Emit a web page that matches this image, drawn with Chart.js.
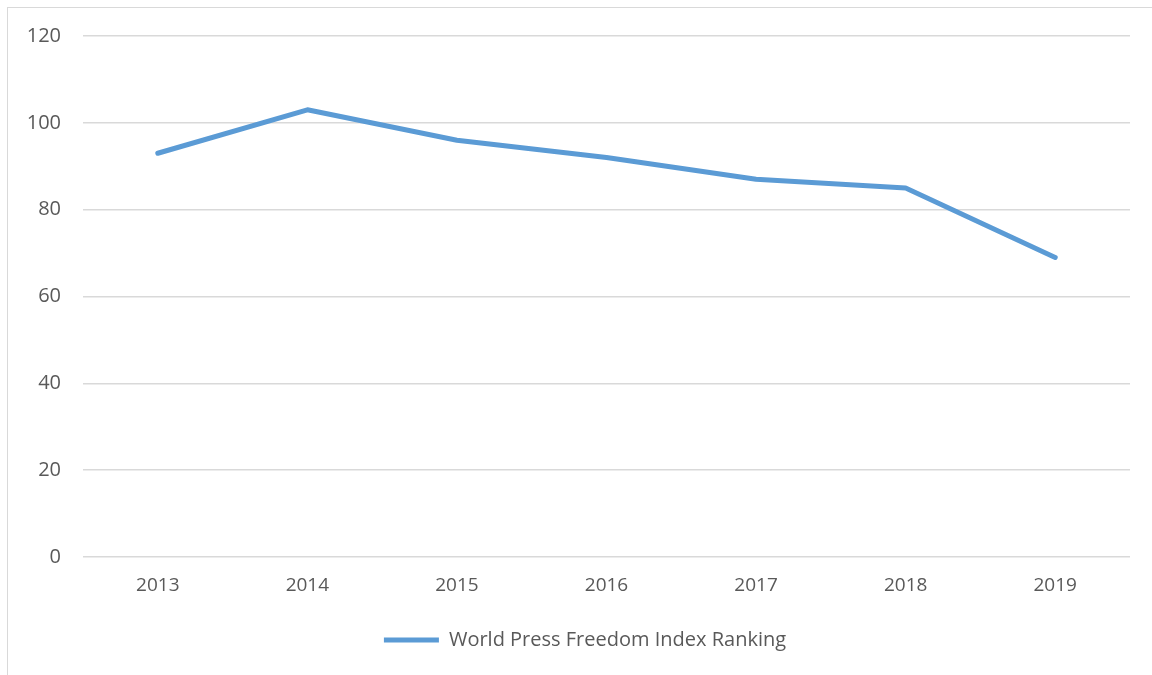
<!DOCTYPE html>
<html>
<head>
<meta charset="utf-8">
<script src="https://cdn.jsdelivr.net/npm/chart.js@4.4.1/dist/chart.umd.min.js"></script>
<style>
  html, body { margin: 0; padding: 0; background: #fff; }
  #wrap { position: relative; width: 1152px; height: 675px; overflow: hidden; }
  #frame { position: absolute; left: 7px; top: 7px; width: 1200px; height: 700px; border-left: 1px solid #d9d9d9; border-top: 1px solid #d9d9d9; }
  canvas { position: absolute; left: 0; top: 0; }
</style>
</head>
<body>
<div id="wrap">
  <div id="frame"></div>
  <canvas id="c" width="1152" height="675"></canvas>
</div>
<script>
const years = ["2013", "2014", "2015", "2016", "2017", "2018", "2019"];
const ranking = [93, 103, 96, 92, 87, 85, 69];
const seriesName = "World Press Freedom Index Ranking";

const font = "'Open Sans', 'Liberation Sans', sans-serif";
const textColor = "#595959";
const lineColor = "#5b9bd5";

const chart = new Chart(document.getElementById("c"), {
  type: "line",
  data: {
    labels: years,
    datasets: [{
      label: seriesName,
      data: ranking,
      borderColor: lineColor,
      backgroundColor: lineColor,
      borderWidth: 5,
      pointRadius: 0,
      tension: 0,
      borderCapStyle: "round",
      borderJoinStyle: "round"
    }]
  },
  options: {
    responsive: false,
    animation: false,
    layout: { padding: { left: 0, right: 22, top: 36, bottom: 15 } },
    scales: {
      x: {
        offset: true,
        grid: { display: false, drawTicks: false },
        border: { display: false },
        ticks: { color: textColor, font: { family: font, size: 19 }, padding: 17 },
        afterFit: (s) => { s.height = 65; }
      },
      y: {
        min: 0, max: 120,
        ticks: { stepSize: 20, color: textColor, font: { family: font, size: 20 }, padding: 22 },
        grid: { color: "#d9d9d9", lineWidth: 1.5, drawTicks: false },
        border: { display: false },
        afterFit: (s) => { s.width = 83; }
      }
    },
    plugins: {
      legend: {
        position: "bottom",
        labels: {
          color: textColor,
          font: { family: font, size: 20 },
          boxWidth: 55,
          boxHeight: 5,
          padding: 8,
          generateLabels: (chart) => chart.data.datasets.map((d, i) => ({
            text: d.label, fillStyle: lineColor, strokeStyle: lineColor, lineWidth: 0,
            fontColor: textColor, datasetIndex: i, hidden: false
          }))
        }
      },
      tooltip: { enabled: false }
    }
  },
  plugins: [{
    id: "shiftLegend",
    afterUpdate(c) {
      const lg = c.legend;
      if (!lg || lg._shifted) return;
      const orig = lg.draw.bind(lg);
      lg.draw = function () {
        c.ctx.save();
        c.ctx.translate(20, 0);
        orig();
        c.ctx.restore();
      };
      lg._shifted = true;
    }
  }]
});
</script>
</body>
</html>
